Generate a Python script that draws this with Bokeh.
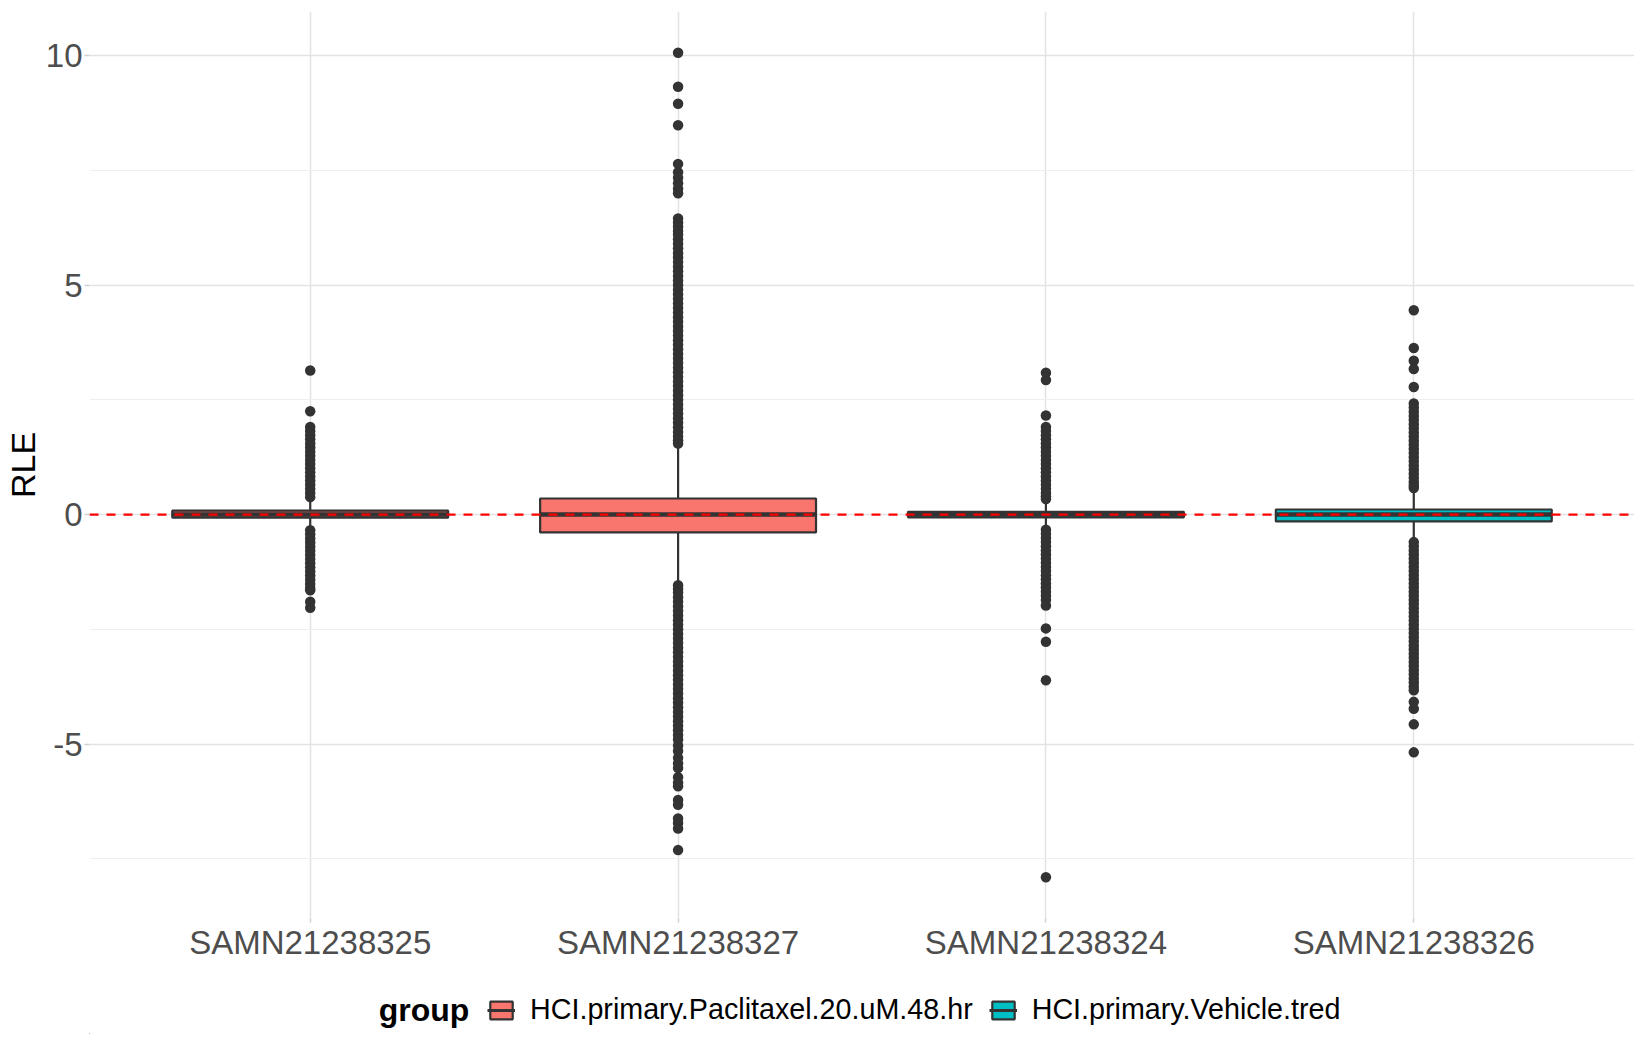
from bokeh.plotting import figure
from bokeh.layouts import column
from bokeh.models import (ColumnDataSource, FactorRange, Range1d, SingleIntervalTicker,
                          Legend, LegendItem, Span, Label)
from bokeh.transform import dodge
from bokeh.embed import file_html
from bokeh.resources import INLINE

# ---------------- data ----------------
samples = ["SAMN21238325", "SAMN21238327", "SAMN21238324", "SAMN21238326"]
sample_group = ["HCI.primary.Paclitaxel.20.uM.48.hr", "HCI.primary.Paclitaxel.20.uM.48.hr",
                "HCI.primary.Vehicle.tred", "HCI.primary.Vehicle.tred"]
group_names = ["HCI.primary.Paclitaxel.20.uM.48.hr", "HCI.primary.Vehicle.tred"]
group_colors = ["#F8766D", "#00BFC4"]
legend_title = "group"

q1 = [-0.065, -0.39, -0.06, -0.15]
median = [0.0, 0.0, 0.0, 0.0]
q3 = [0.085, 0.35, 0.06, 0.11]
whisker_low = [-0.28, -1.45, -0.24, -0.53]
whisker_high = [0.30, 1.45, 0.24, 0.50]

outliers_s25 = [3.14, 2.25, 1.91, 1.82, 1.73, 1.64, 1.55, 1.46, 1.37, 1.28, 1.19, 1.10, 1.01,
                0.92, 0.83, 0.74, 0.65, 0.56, 0.47, 0.38,
                -0.34, -0.43, -0.52, -0.61, -0.70, -0.79, -0.88, -0.97, -1.06, -1.15, -1.24,
                -1.33, -1.42, -1.51, -1.60, -1.65, -1.90, -2.03]
outliers_s27 = [10.06, 9.32, 8.95, 8.48, 7.64, 7.46, 7.34, 7.22, 7.10, 7.00, 6.45, 6.36, 6.27,
                6.18, 6.10, 6.00, 5.90, 5.80, 5.70, 5.60, 5.50, 5.40, 5.30, 5.20, 5.10, 5.00,
                4.90, 4.80, 4.70, 4.60, 4.50, 4.40, 4.30, 4.20, 4.10, 4.00, 3.90, 3.80, 3.70,
                3.60, 3.50, 3.40, 3.30, 3.20, 3.10, 3.00, 2.90, 2.80, 2.70, 2.60, 2.50, 2.40,
                2.30, 2.20, 2.10, 2.00, 1.90, 1.80, 1.70, 1.62, 1.55,
                -1.54, -1.62, -1.70, -1.80, -1.90, -2.00, -2.10, -2.20, -2.30, -2.40, -2.50,
                -2.60, -2.70, -2.80, -2.90, -3.00, -3.10, -3.20, -3.30, -3.40, -3.50, -3.60,
                -3.70, -3.80, -3.90, -4.00, -4.10, -4.20, -4.30, -4.40, -4.50, -4.60, -4.70,
                -4.80, -4.90, -5.03, -5.15, -5.30, -5.42, -5.52, -5.72, -5.84, -5.92, -6.22,
                -6.32, -6.62, -6.72, -6.84, -7.31]
outliers_s24 = [3.09, 2.93, 2.16, 1.91, 1.82, 1.73, 1.64, 1.55, 1.46, 1.37, 1.28, 1.19, 1.10,
                1.01, 0.92, 0.83, 0.74, 0.65, 0.56, 0.47, 0.40, 0.34,
                -0.33, -0.42, -0.51, -0.60, -0.69, -0.78, -0.87, -0.96, -1.05, -1.14, -1.23,
                -1.32, -1.41, -1.50, -1.59, -1.68, -1.77, -1.86, -1.98, -2.48, -2.77, -3.61,
                -7.90]
outliers_s26 = [4.45, 3.63, 3.35, 3.17, 2.78, 2.42, 2.33, 2.24, 2.15, 2.06, 1.97, 1.88, 1.79,
                1.70, 1.61, 1.52, 1.43, 1.34, 1.25, 1.16, 1.07, 0.98, 0.89, 0.80, 0.71, 0.64,
                0.58,
                -0.60, -0.69, -0.78, -0.87, -0.96, -1.05, -1.14, -1.23, -1.32, -1.41, -1.50,
                -1.59, -1.68, -1.77, -1.86, -1.95, -2.04, -2.13, -2.22, -2.31, -2.40, -2.49,
                -2.58, -2.67, -2.76, -2.85, -2.94, -3.03, -3.12, -3.21, -3.30, -3.39, -3.48,
                -3.57, -3.66, -3.75, -3.83, -4.08, -4.23, -4.57, -5.18]
outliers = [outliers_s25, outliers_s27, outliers_s24, outliers_s26]

y_ticks_interval = 5

# ---------------- main figure ----------------
FONT = "Liberation Sans"
BOX_LINE = "#333333"
FRAME_LEFT = 85

p = figure(x_range=FactorRange(factors=samples, range_padding=0.05),
           y_range=Range1d(-8.80, 10.96),
           width=1634, height=964, output_backend="svg", toolbar_location=None,
           min_border_top=11, min_border_right=0, min_border_bottom=46,
           min_border_left=FRAME_LEFT)
p.outline_line_color = None
p.background_fill_color = "white"
p.border_fill_color = "white"

ticker = SingleIntervalTicker(interval=y_ticks_interval, num_minor_ticks=2)
p.yaxis.ticker = ticker
p.ygrid.ticker = ticker
p.ygrid.grid_line_color = "#e3e3e3"
p.ygrid.grid_line_width = 1.5
p.ygrid.minor_grid_line_color = "#efefef"
p.ygrid.minor_grid_line_width = 1.2
p.xgrid.grid_line_color = "#e3e3e3"
p.xgrid.grid_line_width = 1.5

for ax in (p.xaxis, p.yaxis):
    ax.axis_line_color = None
    ax.major_tick_line_color = "#cfcfcf"
    ax.major_tick_line_width = 1.5
    ax.major_tick_in = 0
    ax.minor_tick_line_color = None
    ax.major_label_text_font = FONT
    ax.major_label_text_color = "#4d4d4d"
    ax.major_label_text_font_size = "33px"
p.xaxis.major_tick_out = 4
p.xaxis.major_label_standoff = 1
p.yaxis.major_tick_out = 5
p.yaxis.major_label_standoff = 2
p.yaxis.major_label_overrides = {-5: "-5"}

p.yaxis.axis_label = "RLE"
p.yaxis.axis_label_text_font = FONT
p.yaxis.axis_label_text_font_size = "34px"
p.yaxis.axis_label_text_font_style = "normal"
p.yaxis.axis_label_text_color = "black"
p.yaxis.axis_label_standoff = 1

# outliers
pts_x, pts_y = [], []
for s, vals in zip(samples, outliers):
    pts_x += [s] * len(vals)
    pts_y += vals
p.scatter(x=pts_x, y=pts_y, size=10.5, fill_color=BOX_LINE, line_color=BOX_LINE, line_width=0)

# whiskers
whisk = ColumnDataSource(dict(x=samples, q1=q1, q3=q3, lo=whisker_low, hi=whisker_high))
p.segment(x0="x", y0="q3", x1="x", y1="hi", source=whisk, line_color=BOX_LINE, line_width=2.2)
p.segment(x0="x", y0="q1", x1="x", y1="lo", source=whisk, line_color=BOX_LINE, line_width=2.2)

# boxes
for g, col in zip(group_names, group_colors):
    idx = [i for i, sg in enumerate(sample_group) if sg == g]
    src = ColumnDataSource(dict(x=[samples[i] for i in idx], q1=[q1[i] for i in idx],
                                q3=[q3[i] for i in idx]))
    p.vbar(x="x", width=0.75, bottom="q1", top="q3", source=src, fill_color=col,
           line_color=BOX_LINE, line_width=2.2)

# medians
med_src = ColumnDataSource(dict(x=samples, m=median))
p.segment(x0=dodge("x", -0.375, range=p.x_range), y0="m",
          x1=dodge("x", 0.375, range=p.x_range), y1="m",
          source=med_src, line_color=BOX_LINE, line_width=4.5)

# reference line
p.add_layout(Span(location=0, dimension="width", line_color="#ff0000", line_width=2.2,
                  line_dash="9 8"))

# ---------------- legend strip (frame aligned with the main plot's frame) ----------------
LEG_H = 70
pl = figure(width=1634, height=LEG_H, x_range=Range1d(FRAME_LEFT, 1634),
            y_range=Range1d(0, LEG_H),
            output_backend="svg", toolbar_location=None, x_axis_location=None,
            y_axis_location=None, min_border=0, min_border_left=FRAME_LEFT)
pl.outline_line_color = None
pl.grid.visible = False
pl.background_fill_color = "white"
pl.border_fill_color = "white"

items = []
for g, col in zip(group_names, group_colors):
    # key glyph renderers (their single point lies far outside the visible strip)
    rb = pl.vbar(x=[-5000], top=[-4999], bottom=[-5000], width=1, fill_color=col,
                 line_color=BOX_LINE, line_width=2.2)
    rm = pl.segment(x0=[-5000], y0=[-5000], x1=[-4999], y1=[-5000], line_color=BOX_LINE,
                    line_width=3)
    items.append(LegendItem(label=g, renderers=[rb, rm]))

legend = Legend(items=items, orientation="horizontal", location=(483 - FRAME_LEFT, 8),
                label_text_font=FONT, label_text_font_size="28.7px", label_text_color="black",
                glyph_width=28, glyph_height=22, label_standoff=15, spacing=16,
                border_line_color=None, background_fill_alpha=0, padding=0, margin=0)
pl.add_layout(legend)
pl.add_layout(Label(x=375, y=25, text=legend_title, text_font=FONT, text_font_style="bold",
                    text_font_size="32px", text_color="black", text_baseline="middle",
                    text_align="left"))

open("out.html", "w").write(file_html(column(p, pl), INLINE))
